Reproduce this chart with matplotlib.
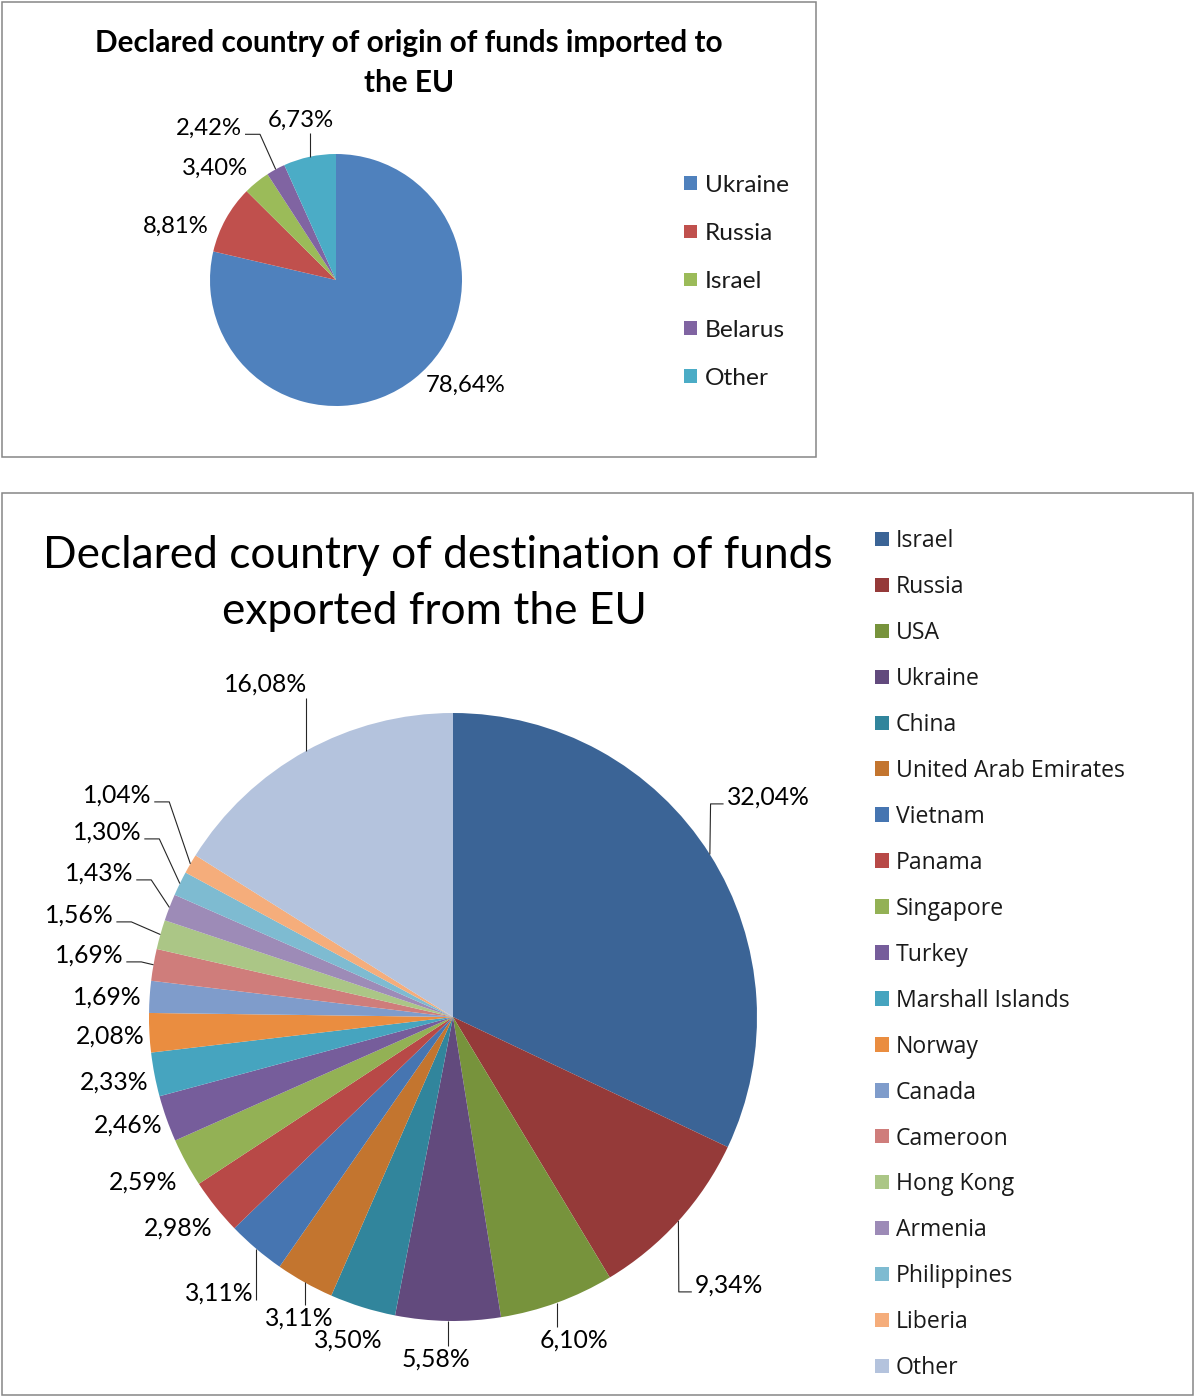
import matplotlib
matplotlib.use('Agg')
import matplotlib.pyplot as plt
from matplotlib.patches import Rectangle
import numpy as np

W, H = 1195, 1397

# funds imported to the EU, declared country of origin (%)
import_countries = ['Ukraine', 'Russia', 'Israel', 'Belarus', 'Other']
import_shares = [78.64, 8.81, 3.40, 2.42, 6.73]
import_colors = ['#4F81BD', '#C0504D', '#9BBB59', '#8064A2', '#4BACC6']

# funds exported from the EU, declared country of destination (%)
export_countries = ['Israel', 'Russia', 'USA', 'Ukraine', 'China',
                    'United Arab Emirates', 'Vietnam', 'Panama', 'Singapore',
                    'Turkey', 'Marshall Islands', 'Norway', 'Canada',
                    'Cameroon', 'Hong Kong', 'Armenia', 'Philippines',
                    'Liberia', 'Other']
export_shares = [32.04, 9.34, 6.10, 5.58, 3.50, 3.11, 3.11, 2.98, 2.59,
                 2.46, 2.33, 2.08, 1.69, 1.69, 1.56, 1.43, 1.30, 1.04, 16.08]
export_colors = ['#3B6496', '#953A39', '#77933C', '#624A7D', '#31859C',
                 '#C3752F', '#4675B1', '#B84947', '#93B155', '#765D9B',
                 '#46A4BF', '#EA8D40', '#7F9CCB', '#CF7D7B', '#ABC686',
                 '#9D8BB7', '#7EBBD1', '#F5AD7B', '#B4C3DD']

# where the percentage labels sit (pixels from top-left) and their leader style
import_label_pos = [(466, 385), (176, 226), (215, 168), (209, 128), (301, 120)]
import_leaders = [None, None, None, 'h', 'v']

export_label_pos = [(768, 797), (729, 1285), (574, 1340), (436, 1359),
                    (348, 1340), (299, 1318), (219, 1293), (178, 1228),
                    (143, 1182), (128, 1125), (114, 1082), (110, 1036),
                    (107, 997), (89, 955), (79, 915), (99, 873), (107, 832),
                    (117, 795), (266, 684)]
export_leaders = ['h', 'h', 'v', 'v', None, 'v', 'vs', None, None, None,
                  None, None, None, 'h', 'h', 'h', 'h', 'h', 'v']

plt.rcParams['font.family'] = ['Lato', 'DejaVu Sans']

fig = plt.figure(figsize=(W / 100, H / 100), dpi=100)
ax = fig.add_axes([0, 0, 1, 1])


def fy(y):
    return H - y


def set_limits():
    ax.set_xlim(0, W)
    ax.set_ylim(0, H)
    ax.set_aspect('equal')
    ax.axis('off')


def fmt(v):
    return f'{v:.2f}'.replace('.', ',') + '%'


def draw_box(x0, y0, x1, y1):
    ax.add_patch(Rectangle((x0, fy(y1)), x1 - x0, y1 - y0, fill=False,
                           ec='#868686', lw=1.1))


def draw_pie(shares, colors, cx, cy, r, label_pos, leaders, fs):
    wedges, _ = ax.pie(shares, colors=colors, startangle=90, counterclock=False,
                       center=(cx, fy(cy)), radius=r,
                       wedgeprops=dict(linewidth=0))
    set_limits()
    renderer = fig.canvas.get_renderer()
    for w, v, (lx, ly), kind in zip(wedges, shares, label_pos, leaders):
        t = ax.text(lx, fy(ly), fmt(v), ha='center', va='center',
                    fontsize=fs, color='black')
        if kind is None:
            continue
        mid = np.deg2rad((w.theta1 + w.theta2) / 2)
        ex = cx + r * np.cos(mid)
        ey = fy(cy) + r * np.sin(mid)
        bb = t.get_window_extent(renderer)
        base = bb.y0 + 0.2 * bb.height
        if kind == 'h':
            if bb.x0 > ex:
                near = bb.x0 - 3
                elbow = near - 13
            else:
                near = bb.x1 + 3
                elbow = near + 15
            xs, ys = [near, elbow, ex], [base, base, ey]
        elif kind == 'v':
            end = bb.y1 + 2 if ey > bb.y1 else bb.y0 - 2
            xs, ys = [ex, ex], [ey, end]
        else:
            xs, ys = [ex, ex], [ey, base]
        ax.plot(xs, ys, color='#262626', lw=0.8, solid_capstyle='butt')


def draw_legend(names, colors, x_sq, y_first, step, sq, x_txt, fs, family):
    cap = 0.72 * fs * 100 / 72
    for i, (name, c) in enumerate(zip(names, colors)):
        yc = fy(y_first + i * step)
        ax.add_patch(Rectangle((x_sq, yc - sq / 2), sq, sq, fc=c, ec='none'))
        ax.text(x_txt, yc - cap / 2, name, ha='left', va='baseline',
                fontsize=fs, family=family, color='#1a1a1a')


# top chart: imports
draw_box(2, 2, 816, 457)
ax.text(409, fy(52), 'Declared country of origin of funds imported to',
        ha='center', va='baseline', fontsize=21.4, fontweight='bold')
ax.text(409, fy(92), 'the EU', ha='center', va='baseline', fontsize=21.4,
        fontweight='bold')
draw_pie(import_shares, import_colors, 336, 280, 126,
         import_label_pos, import_leaders, 17.2)
draw_legend(import_countries, import_colors, 684, 183, 48.25, 13.5, 705,
            17.6, ['Lato', 'DejaVu Sans'])

# bottom chart: exports
draw_box(2, 493, 1193, 1395)
ax.text(438, fy(568), 'Declared country of destination of funds',
        ha='center', va='baseline', fontsize=31.9)
ax.text(434, fy(624), 'exported from the EU', ha='center', va='baseline',
        fontsize=31.9)
draw_pie(export_shares, export_colors, 453, 1017, 304,
         export_label_pos, export_leaders, 17.8)
draw_legend(export_countries, export_colors, 875, 539, 45.94, 14.5, 896,
            16.6, ['Open Sans', 'DejaVu Sans'])

set_limits()
fig.savefig('out.png', dpi=100)
